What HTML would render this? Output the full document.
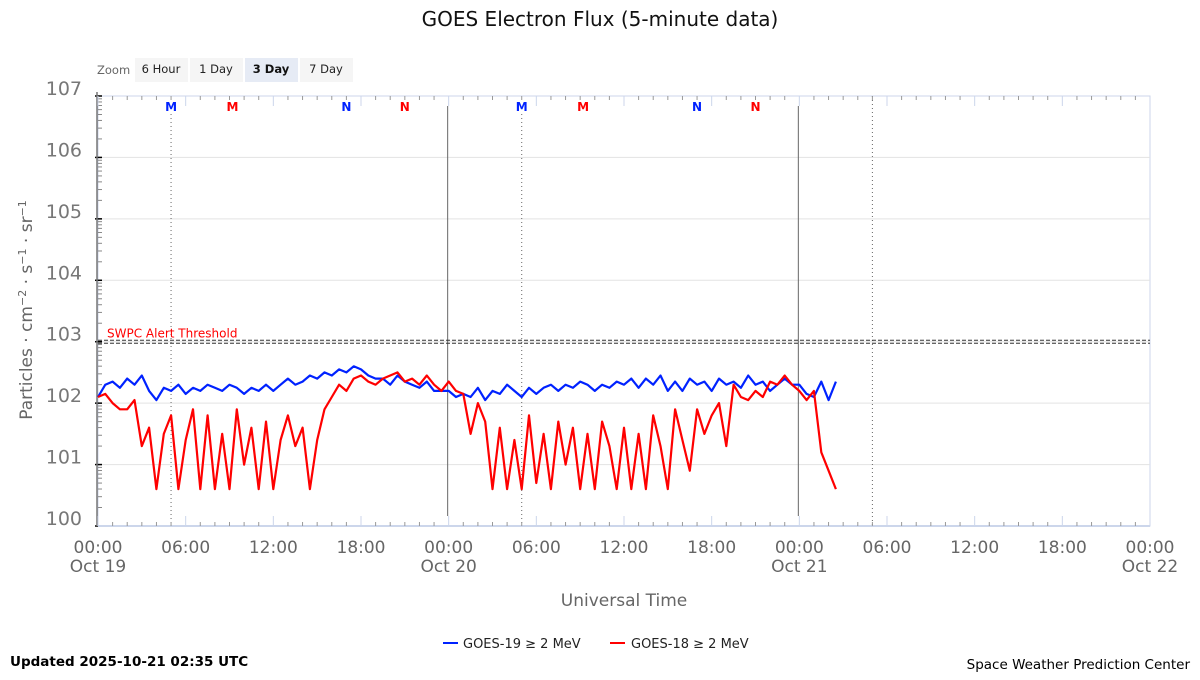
<!DOCTYPE html>
<html><head><meta charset="utf-8"><style>
body{margin:0;background:#fff;font-family:"Liberation Sans","DejaVu Sans",sans-serif}
svg text{font-family:"DejaVu Sans","Liberation Sans",sans-serif}
</style></head><body>
<svg id="c" width="1200" height="675" xmlns="http://www.w3.org/2000/svg">
<text x="600" y="26" text-anchor="middle" font-size="20" fill="#111">GOES Electron Flux (5-minute data)</text>
<g>
<text x="97" y="74" font-size="11.5" fill="#666">Zoom</text>
<g><rect x="135" y="58" width="53" height="24" fill="#f5f5f5"/><text x="161" y="73" text-anchor="middle" font-size="11.5" fill="#222">6 Hour</text></g>
<g><rect x="190" y="58" width="53" height="24" fill="#f5f5f5"/><text x="216" y="73" text-anchor="middle" font-size="11.5" fill="#222">1 Day</text></g>
<g><rect x="245" y="58" width="53" height="24" fill="#e6ebf5"/><text x="271" y="73" text-anchor="middle" font-size="11.5" font-weight="bold" fill="#111">3 Day</text></g>
<g><rect x="300" y="58" width="53" height="24" fill="#f5f5f5"/><text x="326" y="73" text-anchor="middle" font-size="11.5" fill="#222">7 Day</text></g>
</g>
<g id="grid"></g><g id="axes"></g><g id="series"></g>
<text transform="translate(32,310) rotate(-90)" text-anchor="middle" font-size="17" fill="#666">Particles · cm<tspan baseline-shift="super" font-size="11">−2</tspan> · s<tspan baseline-shift="super" font-size="11">−1</tspan> · sr<tspan baseline-shift="super" font-size="11">−1</tspan></text>
<text x="624" y="606" text-anchor="middle" font-size="17" fill="#666">Universal Time</text>
<g><line x1="443" y1="643" x2="458" y2="643" stroke="#0022ff" stroke-width="2"/><text x="463" y="648" font-size="13" fill="#222">GOES-19 ≥ 2 MeV</text></g>
<g><line x1="610" y1="643" x2="625" y2="643" stroke="#ff0000" stroke-width="2"/><text x="631" y="648" font-size="13" fill="#222">GOES-18 ≥ 2 MeV</text></g>
<text x="10" y="666" font-size="13.5" font-weight="bold" fill="#000">Updated 2025-10-21 02:35 UTC</text>
<text x="1190" y="669" text-anchor="end" font-size="13.5" fill="#000">Space Weather Prediction Center</text>
</svg>
<script>
const blueLog=[2.1,2.3,2.35,2.25,2.4,2.3,2.45,2.2,2.05,2.25,2.2,2.3,2.15,2.25,2.2,2.3,2.25,2.2,2.3,2.25,2.15,2.25,2.2,2.3,2.2,2.3,2.4,2.3,2.35,2.45,2.4,2.5,2.45,2.55,2.5,2.6,2.55,2.45,2.4,2.4,2.3,2.45,2.35,2.3,2.25,2.35,2.2,2.2,
2.2,2.1,2.15,2.1,2.25,2.05,2.2,2.15,2.3,2.2,2.1,2.25,2.15,2.25,2.3,2.2,2.3,2.25,2.35,2.3,2.2,2.3,2.25,2.35,2.3,2.4,2.25,2.4,2.3,2.45,2.2,2.35,2.2,2.4,2.3,2.35,2.2,2.4,2.3,2.35,2.25,2.45,2.3,2.35,2.2,2.3,2.4,2.3,2.3,2.15,2.1,2.35,2.05,2.35];
const redLog=[2.1,2.15,2.0,1.9,1.9,2.05,1.3,1.6,0.6,1.5,1.8,0.6,1.4,1.9,0.6,1.8,0.6,1.5,0.6,1.9,1.0,1.6,0.6,1.7,0.6,1.4,1.8,1.3,1.6,0.6,1.4,1.9,2.1,2.3,2.2,2.4,2.45,2.35,2.3,2.4,2.45,2.5,2.35,2.4,2.3,2.45,2.3,2.2,
2.35,2.2,2.15,1.5,2.0,1.7,0.6,1.6,0.6,1.4,0.6,1.8,0.7,1.5,0.6,1.7,1.0,1.6,0.6,1.5,0.6,1.7,1.3,0.6,1.6,0.6,1.5,0.6,1.8,1.3,0.6,1.9,1.4,0.9,1.9,1.5,1.8,2.0,1.3,2.3,2.1,2.05,2.2,2.1,2.35,2.3,2.45,2.3,2.2,2.05,2.2,1.2,0.9,0.6];
const stepHours=0.5;
const yTickLabels=["100","101","102","103","104","105","106","107"];
const xTickLabels=["00:00","06:00","12:00","18:00","00:00","06:00","12:00","18:00","00:00","06:00","12:00","18:00","00:00"];
const dateLabels=["Oct 19","Oct 20","Oct 21","Oct 22"];
const thresholdLog=3;
const markers=[{t:"M",h:5,c:"#0022ff"},{t:"M",h:9.2,c:"#ff0000"},{t:"N",h:17,c:"#0022ff"},{t:"N",h:21,c:"#ff0000"}];

const X0=98,X1=1150,Y0=526,Y1=96,NS="http://www.w3.org/2000/svg";
const xs=h=>X0+(X1-X0)*h/72;
const ys=l=>Y0-(Y0-Y1)*l/7;
function mk(tag,attrs,parent){const e=document.createElementNS(NS,tag);for(const k in attrs)e.setAttribute(k,attrs[k]);parent.appendChild(e);return e;}
const grid=document.getElementById('grid'),axes=document.getElementById('axes'),ser=document.getElementById('series');
mk('rect',{x:X0,y:Y1,width:X1-X0,height:Y0-Y1,fill:'none',stroke:'#ccd6eb','stroke-width':1},grid);
yTickLabels.forEach((s,i)=>{const y=ys(i);
 if(i>0&&i<7){const g=mk('line',{x1:X0,x2:X1,y1:y,y2:y,stroke:'#e3e3e3'},grid);}
 mk('line',{x1:X0-3,x2:X0+4,y1:y,y2:y,stroke:'#000','stroke-width':1.5},axes);
 for(let m=2;m<10&&i<7;m++){const yy=ys(i+Math.log10(m));mk('line',{x1:X0,x2:X0+4,y1:yy,y2:yy,stroke:'#888'},axes);}
 const t=mk('text',{x:82,y:y-1,'text-anchor':'end','font-size':19,fill:'#777'},axes);t.textContent=s;
 
});
mk('line',{x1:X0-1,x2:X0-1,y1:Y1-4,y2:Y0,stroke:'#777','stroke-width':1.5},axes);
mk('line',{x1:X0,x2:X1,y1:Y0,y2:Y0,stroke:'#ccd6eb','stroke-width':2},axes);
for(let h=0;h<=72;h++){const x=xs(h);const major=h%6===0;
 mk('line',{x1:x,x2:x,y1:major?Y0-10:Y0-4,y2:Y0,stroke:major?'#ccd6eb':'#999'},axes);
 mk('line',{x1:x,x2:x,y1:Y1,y2:major?Y1+10:Y1+4,stroke:major?'#ccd6eb':'#999'},axes);}
xTickLabels.forEach((s,i)=>{const t=mk('text',{x:xs(i*6),y:553,'text-anchor':'middle','font-size':17,fill:'#666'},axes);t.textContent=s;
 });
dateLabels.forEach((s,i)=>{const t=mk('text',{x:xs(i*24),y:572,'text-anchor':'middle','font-size':17,fill:'#666'},axes);t.textContent=s;
 });
[24,48].forEach(h=>{const l=mk('line',{x1:xs(h)-1,x2:xs(h)-1,y1:106,y2:516,stroke:'#666'},grid);});
for(let d=0;d<3;d++){
 markers.forEach(m=>{const x=xs(d*24+m.h);
  if(d<2){const t=mk('text',{x:x,y:111,'text-anchor':'middle','font-size':12,'font-weight':'bold',fill:m.c},axes);t.textContent=m.t;
  }
  if(m.t==="M"&&m.c==="#0022ff"){const l=mk('line',{x1:x,x2:x,y1:d<2?114:Y1,y2:Y0,stroke:'#666','stroke-dasharray':'1,3'},grid);}
 });
}
const ty=ys(thresholdLog);
mk('line',{x1:X0,x2:X1,y1:ty-1.5,y2:ty-1.5,stroke:'#333','stroke-dasharray':'4,2'},grid);
const thr=mk('line',{x1:X0,x2:X1,y1:ty+1.5,y2:ty+1.5,stroke:'#333','stroke-dasharray':'4,2'},grid);

const tt=mk('text',{x:107,y:ty-4,'font-size':12,fill:'#ff0000'},grid);tt.textContent="SWPC Alert Threshold";

function line(arr,col,name){const d=arr.map((v,i)=>(i?'L':'M')+xs(i*stepHours).toFixed(1)+','+ys(v).toFixed(1)).join('');
 const p=mk('path',{d:d,fill:'none',stroke:col,'stroke-width':2.2,'stroke-linejoin':'round'},ser);
 }
line(blueLog,'#0022ff','goes-19-series');
line(redLog,'#ff0000','goes-18-series');
</script>
</body></html>
